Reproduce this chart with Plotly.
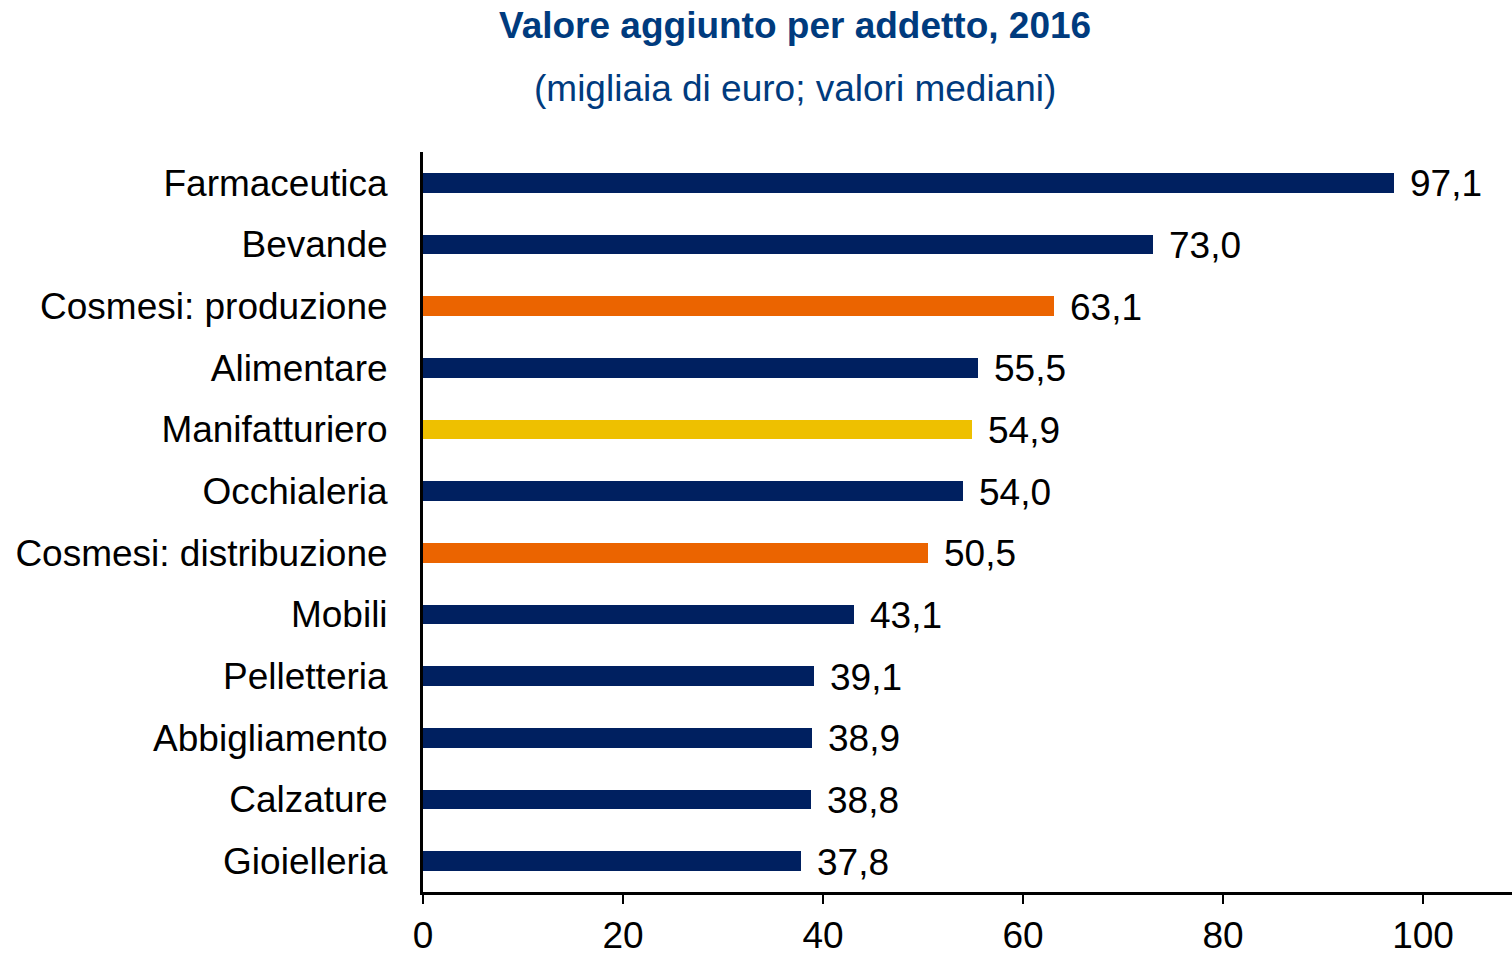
import plotly.graph_objects as go

categories = ["Farmaceutica", "Bevande", "Cosmesi: produzione", "Alimentare", "Manifatturiero",
              "Occhialeria", "Cosmesi: distribuzione", "Mobili", "Pelletteria", "Abbigliamento",
              "Calzature", "Gioielleria"]
values = [97.1, 73.0, 63.1, 55.5, 54.9, 54.0, 50.5, 43.1, 39.1, 38.9, 38.8, 37.8]
groups = ["altro", "altro", "cosmesi", "altro", "manif", "altro", "cosmesi", "altro", "altro", "altro", "altro", "altro"]
x_ticks = [0, 20, 40, 60, 80, 100]

palette = {"altro": "#002060", "cosmesi": "#EB6400", "manif": "#EEC000"}
colors = [palette[g] for g in groups]
labels = [f"{v:.1f}".replace(".", ",") for v in values]

FONT = "Liberation Sans, Arial, sans-serif"
FS = 37
L = 423

fig = go.Figure()
fig.add_trace(go.Bar(
    x=values, y=categories, orientation="h",
    marker=dict(color=colors, line=dict(width=0)),
    width=0.32, hoverinfo="skip",
))

for c, v, t in zip(categories, values, labels):
    fig.add_annotation(x=v, y=c, text=t, showarrow=False, xanchor="left", yanchor="middle",
                       xshift=14, yshift=-1, font=dict(family=FONT, size=FS, color="#000000"))

fig.add_annotation(xref="paper", yref="paper", x=(795 - L) / (1512 - L), y=1, yshift=127,
                   text="<b>Valore aggiunto per addetto, 2016</b>", showarrow=False,
                   xanchor="center", yanchor="middle",
                   font=dict(family=FONT, size=FS, color="#003B7E"))
fig.add_annotation(xref="paper", yref="paper", x=(795 - L) / (1512 - L), y=1, yshift=64,
                   text="(migliaia di euro; valori mediani)", showarrow=False,
                   xanchor="center", yanchor="middle",
                   font=dict(family=FONT, size=FS, color="#003B7E"))

fig.update_layout(
    width=1512, height=954,
    margin=dict(l=L, r=0, t=152, b=62, pad=0, autoexpand=False),
    paper_bgcolor="white", plot_bgcolor="white",
    showlegend=False,
    font=dict(family=FONT, size=FS, color="#000000"),
    bargap=0,
)
fig.update_xaxes(
    range=[0, (1512 - L) / 10.0], tickvals=x_ticks, ticktext=[str(t) for t in x_ticks],
    showgrid=False, zeroline=False, automargin=False,
    showline=True, linecolor="black", linewidth=3,
    ticks="outside", ticklen=9, tickwidth=2, tickcolor="black",
    ticklabelstandoff=0,
    tickfont=dict(family=FONT, size=FS, color="#000000"),
)
fig.update_yaxes(
    range=[11.5, -0.5], type="category",
    showgrid=False, zeroline=False, automargin=False,
    showline=True, linecolor="black", linewidth=3,
    ticks="", ticklabelstandoff=25,
    tickfont=dict(family=FONT, size=FS, color="#000000"),
)

fig.write_html("out.html", config={"displayModeBar": False},
               post_script="document.body.style.margin='0';document.body.style.overflow='hidden';")
